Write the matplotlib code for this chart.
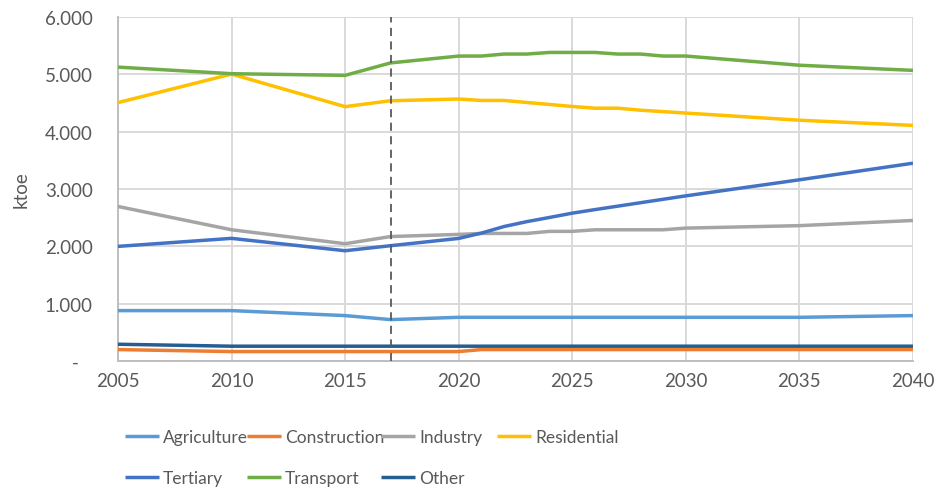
import matplotlib
matplotlib.use("Agg")
import matplotlib.pyplot as plt
from matplotlib.ticker import FuncFormatter, MultipleLocator

plt.rcParams['font.family'] = ['Lato', 'DejaVu Sans']

years = [2005, 2010, 2015, 2017, 2020, 2021, 2022, 2023, 2024, 2025,
         2026, 2027, 2028, 2029, 2030, 2035, 2040]

agriculture = [877, 877, 790, 720, 760, 760, 760, 760, 760, 760,
               760, 760, 760, 760, 760, 760, 790]
construction = [197, 162, 162, 162, 162, 197, 197, 197, 197, 197,
                197, 197, 197, 197, 197, 197, 197]
industry = [2695, 2288, 2044, 2170, 2207, 2224, 2224, 2224, 2260, 2260,
            2288, 2288, 2288, 2288, 2317, 2360, 2450]
residential = [4507, 5005, 4437, 4540, 4570, 4545, 4545, 4510, 4475, 4440,
               4410, 4410, 4375, 4350, 4325, 4200, 4110]
tertiary = [1998, 2138, 1922, 2010, 2137, 2230, 2345, 2430, 2503, 2578,
            2640, 2700, 2760, 2820, 2880, 3160, 3450]
transport = [5127, 5012, 4983, 5200, 5320, 5320, 5355, 5355, 5383, 5383,
             5383, 5355, 5355, 5320, 5320, 5160, 5070]
other = [290, 256, 256, 256, 256, 256, 256, 256, 256, 256,
         256, 256, 256, 256, 256, 256, 256]

base_year = 2017

series = [
    ("Agriculture", agriculture, "#5B9BD5"),
    ("Construction", construction, "#ED7D31"),
    ("Industry", industry, "#A5A5A5"),
    ("Residential", residential, "#FFC000"),
    ("Tertiary", tertiary, "#4472C4"),
    ("Transport", transport, "#70AD47"),
    ("Other", other, "#255E91"),
]

FS = 13.5
LFS = 12.5
TXT = "#595959"

fig = plt.figure(figsize=(9.36, 4.89), dpi=100)
ax = fig.add_axes([0.126, 0.260, 0.8494, 0.703])

handles = {}
for name, vals, col in series:
    ln, = ax.plot(years, vals, color=col, lw=2.5, solid_joinstyle='round',
                  solid_capstyle='butt', label=name, zorder=3)
    handles[name] = ln

ax.axvline(base_year, color=TXT, lw=1.3, ls=(0, (4.5, 3)), zorder=4)

ax.set_xlim(2005, 2040)
ax.set_ylim(0, 6000)
ax.xaxis.set_major_locator(MultipleLocator(5))
ax.yaxis.set_major_locator(MultipleLocator(1000))


def fmt_y(v, pos):
    if abs(v) < 1e-9:
        return "-   "
    return f"{int(round(v)):,}".replace(",", ".")


ax.yaxis.set_major_formatter(FuncFormatter(fmt_y))
ax.grid(True, color="#D9D9D9", lw=1.4, zorder=0)
ax.set_axisbelow(True)
for s in ("top", "right"):
    ax.spines[s].set_visible(False)
for s in ("left", "bottom"):
    ax.spines[s].set_color("#BFBFBF")
    ax.spines[s].set_linewidth(1.4)
ax.tick_params(axis='both', length=0, colors=TXT, labelsize=FS)
ax.tick_params(axis='y', pad=18)
ax.tick_params(axis='x', pad=8)
ax.set_ylabel("ktoe", fontsize=FS, color=TXT, labelpad=11)

# Legend: four columns laid out at fixed positions, two rows
columns = [["Agriculture", "Tertiary"], ["Construction", "Transport"],
           ["Industry", "Other"], ["Residential"]]
col_x = [125, 247, 381, 497]
W, H = 936, 489
for names, x in zip(columns, col_x):
    fig.legend([handles[n] for n in names], names,
               loc="upper left", bbox_to_anchor=(x / W, 1 - 430 / H),
               frameon=False, handlelength=1.95,
               prop={'size': LFS},
               handletextpad=0.25, labelspacing=1.45, borderpad=0,
               borderaxespad=0, labelcolor=TXT)

fig.savefig("out.png", dpi=100)
